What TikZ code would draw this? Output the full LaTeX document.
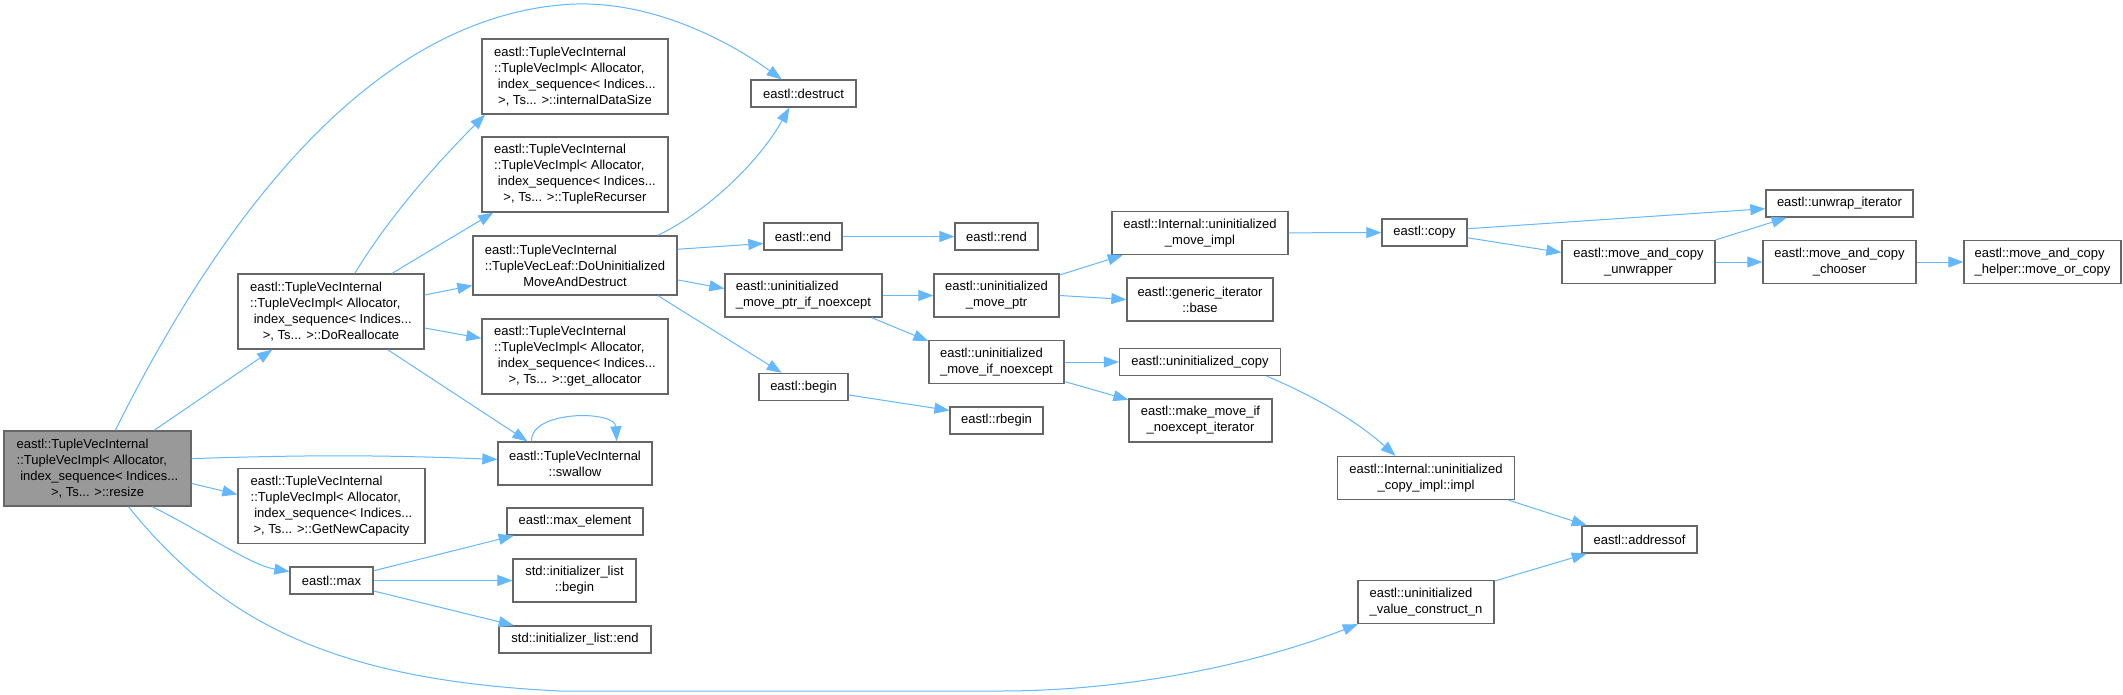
\documentclass[tikz,border=0pt]{standalone}
\usepackage{fontspec}
\setmainfont{Liberation Sans}
\usepackage{xcolor}
\usepackage{tikz}
\usetikzlibrary{arrows.meta}

\definecolor{edgeblue}{HTML}{63B8FF}
\definecolor{boxline}{HTML}{666666}
\definecolor{rootfill}{HTML}{999999}
\newcommand{\fnfont}{\fontsize{13bp}{16bp}\selectfont}
\newcommand{\lastln}[1]{\hfill#1\hfill\mbox{}}

\begin{document}
\begin{tikzpicture}[x=1bp, y=-1bp,
        fn/.style={draw=boxline, fill=white, line width=1.3bp, font=\fnfont, align=left,
                   inner sep=2bp, minimum height=27bp, minimum width=#1},
        root/.style={fn=#1, fill=rootfill},
        lines2/.style={minimum height=43bp},
        lines3/.style={minimum height=59bp},
        lines4/.style={minimum height=75bp},
        call/.style={color=edgeblue, line width=1bp, -{Triangle[length=15bp,width=11bp]}}]
        \useasboundingbox (0,0) rectangle (2123,695);
        \fill[white] (0,0) rectangle (2123,695);

        % first column
        \node[root=187bp, lines4] (resize) at (97.5,468.5) {eastl::TupleVecInternal\\::TupleVecImpl< Allocator,\\\ index\_sequence< Indices...\\\lastln{>, Ts... >::resize}};

        % second column
        \node[fn=186bp, lines4] (realloc) at (331,311.5) {eastl::TupleVecInternal\\::TupleVecImpl< Allocator,\\\ index\_sequence< Indices...\\\lastln{>, Ts... >::DoReallocate}};
        \node[fn=187bp, lines4] (newcap) at (331.5,506) {eastl::TupleVecInternal\\::TupleVecImpl< Allocator,\\\ index\_sequence< Indices...\\\lastln{>, Ts... >::GetNewCapacity}};
        \node[fn=83bp] (max) at (331.5,580.5) {eastl::max};

        % third column
        \node[fn=186bp, lines4] (datasize) at (575,76.5) {eastl::TupleVecInternal\\::TupleVecImpl< Allocator,\\\ index\_sequence< Indices...\\\lastln{>, Ts... >::internalDataSize}};
        \node[fn=186bp, lines4] (recurser) at (575,174.5) {eastl::TupleVecInternal\\::TupleVecImpl< Allocator,\\\ index\_sequence< Indices...\\\lastln{>, Ts... >::TupleRecurser}};
        \node[fn=204bp, lines3] (moveDestruct) at (575,265.5) {eastl::TupleVecInternal\\::TupleVecLeaf::DoUninitialized\\\lastln{MoveAndDestruct}};
        \node[fn=186bp, lines4] (getalloc) at (575,356.5) {eastl::TupleVecInternal\\::TupleVecImpl< Allocator,\\\ index\_sequence< Indices...\\\lastln{>, Ts... >::get\_allocator}};
        \node[fn=154bp, lines2] (swallow) at (575,463.5) {eastl::TupleVecInternal\\\lastln{::swallow}};
        \node[fn=136bp] (maxelem) at (575,521.5) {eastl::max\_element};
        \node[fn=123bp, lines2] (ilbegin) at (574.5,580.5) {std::initializer\_list\\\lastln{::begin}};
        \node[fn=152bp] (ilend) at (575,639.5) {std::initializer\_list::end};

        % fourth column
        \node[fn=105bp] (destruct) at (803.5,93.5) {eastl::destruct};
        \node[fn=78bp] (end) at (803,236.5) {eastl::end};
        \node[fn=157bp, lines2] (movePtrIfNoexcept) at (803.5,295.5) {eastl::uninitialized\\\lastln{\_move\_ptr\_if\_noexcept}};
        \node[fn=89bp] (begin) at (803.5,387) {eastl::begin};

        % fifth column
        \node[fn=83bp] (rend) at (996.5,236.5) {eastl::rend};
        \node[fn=125bp, lines2] (movePtr) at (996.5,295.5) {eastl::uninitialized\\\lastln{\_move\_ptr}};
        \node[fn=135bp, lines2] (moveIfNoexcept) at (996.5,362) {eastl::uninitialized\\\lastln{\_move\_if\_noexcept}};
        \node[fn=93bp] (rbegin) at (996.5,420.5) {eastl::rbegin};

        % sixth column
        \node[fn=176bp, lines2] (moveImpl) at (1200,233) {eastl::Internal::uninitialized\\\lastln{\_move\_impl}};
        \node[fn=146bp, lines2] (iterBase) at (1200,299.5) {eastl::generic\_iterator\\\lastln{::base}};
        \node[fn=161bp] (uninitCopy) at (1200,362) {eastl::uninitialized\_copy};
        \node[fn=143bp, lines2] (makeMoveIter) at (1200.5,420.5) {eastl::make\_move\_if\\\lastln{\_noexcept\_iterator}};

        % seventh column
        \node[fn=85bp] (copy) at (1424.5,232.5) {eastl::copy};
        \node[fn=177bp, lines2] (copyImpl) at (1426,478) {eastl::Internal::uninitialized\\\lastln{\_copy\_impl::impl}};
        \node[fn=136bp, lines2] (valueConstruct) at (1426,602) {eastl::uninitialized\\\lastln{\_value\_construct\_n}};

        % eighth column and beyond
        \node[fn=153bp, lines2] (unwrapper) at (1638.5,262) {eastl::move\_and\_copy\\\lastln{\_unwrapper}};
        \node[fn=115bp] (addressof) at (1639.5,539.5) {eastl::addressof};
        \node[fn=147bp] (unwrapIter) at (1839.5,203.5) {eastl::unwrap\_iterator};
        \node[fn=153bp, lines2] (chooser) at (1839.5,262) {eastl::move\_and\_copy\\\lastln{\_chooser}};
        \node[fn=157bp, lines2] (moveOrCopy) at (2042.5,262) {eastl::move\_and\_copy\\\lastln{\_helper::move\_or\_copy}};

        \path[call]
        (resize.34) edge (realloc.213)
        (resize.6) edge[bend left=2] (swallow.177)
        (resize.-9) edge (newcap.173)
        (realloc.32) edge (recurser.205)
        (realloc.10) edge (moveDestruct.191)
        (realloc.-10) edge (getalloc.169)
        (realloc.-34) edge (swallow.155)
        (moveDestruct.9) edge (end.190)
        (moveDestruct.-8) edge (movePtrIfNoexcept.175)
        (moveDestruct.-20) edge (begin.147)
        (end) edge (rend)
        (begin.-10) edge (rbegin.168)
        (movePtrIfNoexcept) edge (movePtr)
        (movePtrIfNoexcept.-18) edge (moveIfNoexcept.163)
        (movePtr.18) edge (moveImpl.196)
        (movePtr.east) edge (iterBase.west)
        (moveIfNoexcept) edge (uninitCopy)
        (moveIfNoexcept.-16) edge (makeMoveIter.164)
        (moveImpl) edge (copy)
        (copy.5) edge (unwrapIter.184)
        (copy.-7) edge (unwrapper.173)
        (unwrapper.16) edge (unwrapIter.195)
        (unwrapper) edge (chooser)
        (chooser) edge (moveOrCopy)
        (copyImpl.-15) edge (addressof.165)
        (valueConstruct.17) edge (addressof.195)
        (max.13) edge (maxelem.193)
        (max) edge (ilbegin)
        (max.-14) edge (ilend.167);

        % the curved calls
        \draw[call] (resize.65) .. controls (250,160) and (400,20) .. (560,5) .. controls (640,-3) and (720,35) .. (destruct.147);
        \draw[call] (resize.-35) .. controls (200,530) and (250,565) .. (max.168);
        \draw[call] (resize.-51) .. controls (220,620) and (330,680) .. (560,691) -- (1000,691) .. controls (1150,691) and (1280,655) .. (valueConstruct.198);
        \draw[call] (realloc.58) .. controls (390,215) and (440,160) .. (datasize.203);
        \draw[call] (moveDestruct.20) .. controls (710,210) and (760,160) .. (destruct.225);
        \draw[call] (uninitCopy.-12) .. controls (1300,390) and (1350,415) .. (copyImpl.144);
        \draw[call] (swallow.153) .. controls (530,410) and (615,410) .. (swallow.28);

    \end{tikzpicture}
\end{document}
